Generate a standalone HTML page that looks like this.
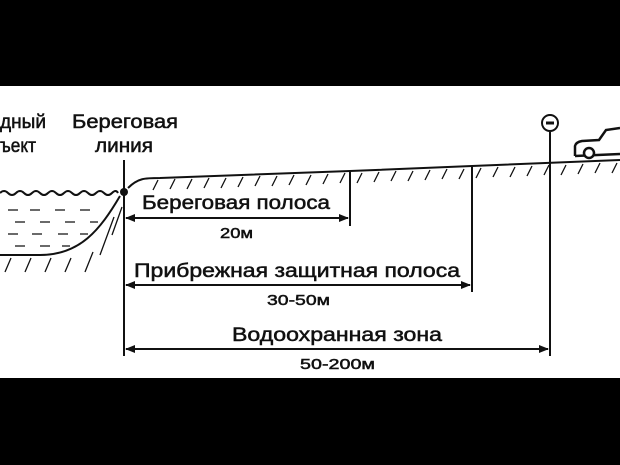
<!DOCTYPE html>
<html><head><meta charset="utf-8"><style>
body{margin:0;width:620px;height:465px;background:#000;overflow:hidden}
svg{display:block}
text{font-family:"Liberation Sans","DejaVu Sans",sans-serif;fill:#111;stroke:#111;stroke-width:0.5}
</style></head><body>
<svg width="620" height="465" viewBox="0 0 620 465">
<defs><marker id="a" markerWidth="10" markerHeight="8" refX="9" refY="4" orient="auto" markerUnits="userSpaceOnUse"><path d="M0,0L10,4L0,8z" fill="#111"/></marker>
<marker id="b" markerWidth="10" markerHeight="8" refX="1" refY="4" orient="auto" markerUnits="userSpaceOnUse"><path d="M10,0L0,4L10,8z" fill="#111"/></marker></defs>
<rect x="0" y="86" width="620" height="292" fill="#fff"/>
<g stroke="#111" stroke-width="2" fill="none">
<path d="M0,193 q4,-4 8,0 t8,0 t8,0 t8,0 t8,0 t8,0 t8,0 t8,0 t8,0 t8,0 t8,0 t8,0 t8,0 t8,0 t6,0"/>
<path d="M120,196 C100,230 80,255 40,255 L0,255"/>
<path d="M128,188 C138,178 145,178 160,178 L350,171 L472,166 L620,160"/>
<line x1="124" y1="160" x2="124" y2="356"/>
<line x1="350" y1="171" x2="350" y2="226"/>
<line x1="472" y1="166" x2="472" y2="292"/>
<line x1="550" y1="132" x2="550" y2="356"/>
<circle cx="550" cy="123" r="8"/>
<line x1="126" y1="218" x2="348" y2="218" marker-start="url(#b)" marker-end="url(#a)"/>
<line x1="126" y1="285" x2="470" y2="285" marker-start="url(#b)" marker-end="url(#a)"/>
<line x1="126" y1="349" x2="548" y2="349" marker-start="url(#b)" marker-end="url(#a)"/>
<path d="M575,156 L575,146 Q576,142 582,141 L599,140 L606,130 L620,128 M575,156 L620,154" stroke-width="2.5"/>
</g>
<line x1="546" y1="123" x2="554" y2="123" stroke="#111" stroke-width="3"/>
<circle cx="589" cy="153" r="5" fill="#fff" stroke="#111" stroke-width="2.5"/>
<circle cx="124" cy="192" r="4" fill="#111"/>
<g stroke="#111" stroke-width="1.3">
<path d="M153,190l5,-10M170,189l5,-10M187,189l5,-10M204,188l5,-10M221,188l5,-10M238,187l5,-10M255,186l5,-10M272,186l5,-10M289,185l5,-10M306,185l5,-10M323,184l5,-10M340,183l5,-10M357,183l5,-10M374,182l5,-10M391,181l5,-10M408,181l5,-10M425,180l5,-10M442,179l5,-10M459,179l5,-10M476,178l5,-10M493,177l5,-10M510,177l5,-10M527,176l5,-10M544,175l5,-10M561,175l5,-10M578,174l5,-10M595,173l5,-10M612,173l5,-10"/>
<path d="M112,235l10,-28M100,255l14,-38M5,272l6,-14M25,272l6,-14M45,272l6,-14M65,272l6,-14M85,272l8,-20"/>
<path d="M8,210h10M30,210h10M55,210h10M80,210h10M15,222h10M40,222h10M65,222h10M90,222h8M8,234h10M32,234h10M58,234h10M80,234h8M15,246h10M40,246h10M62,246h8"/>
</g>
<g font-size="19">
<text x="0" y="128" textLength="46" lengthAdjust="spacingAndGlyphs">дный</text><text x="0" y="152" textLength="36" lengthAdjust="spacingAndGlyphs">ъект</text>
<text x="72" y="128" textLength="106" lengthAdjust="spacingAndGlyphs">Береговая</text><text x="95" y="152" textLength="58" lengthAdjust="spacingAndGlyphs">линия</text>
<text x="142" y="209" textLength="188" lengthAdjust="spacingAndGlyphs">Береговая полоса</text>
<text x="134" y="277" textLength="326" lengthAdjust="spacingAndGlyphs">Прибрежная защитная полоса</text>
<text x="232" y="341" textLength="210" lengthAdjust="spacingAndGlyphs">Водоохранная зона</text>
</g>
<g font-size="15">
<text x="220" y="238" textLength="33" lengthAdjust="spacingAndGlyphs">20м</text><text x="267" y="305" textLength="63" lengthAdjust="spacingAndGlyphs">30-50м</text><text x="300" y="369" textLength="75" lengthAdjust="spacingAndGlyphs">50-200м</text>
</g>
</svg>
</body></html>
